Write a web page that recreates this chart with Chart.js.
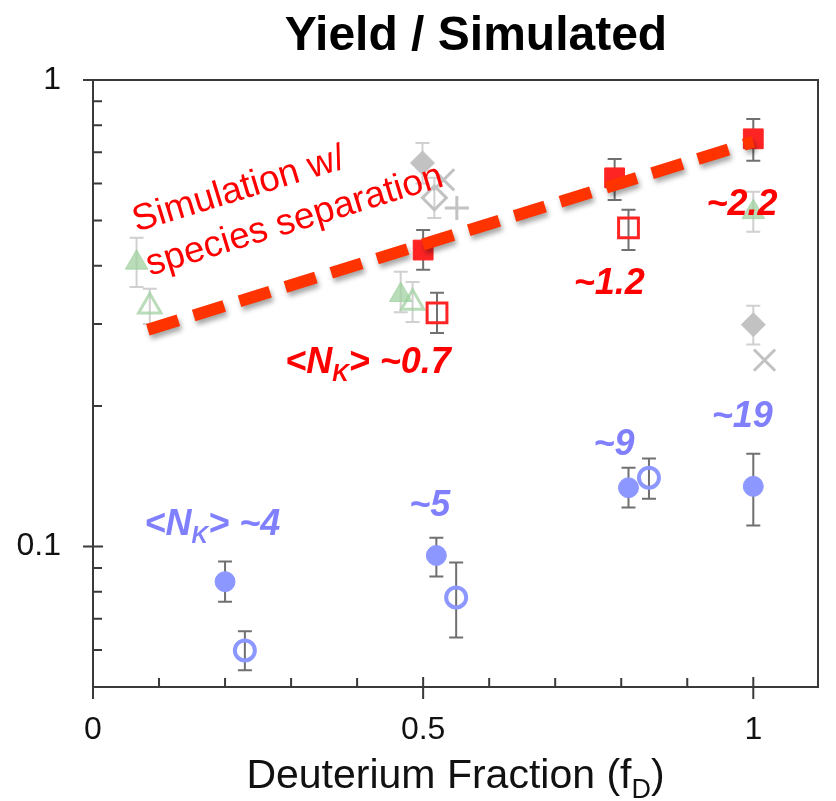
<!DOCTYPE html>
<html>
<head>
<meta charset="utf-8">
<title>Yield / Simulated</title>
<script src="https://cdn.jsdelivr.net/npm/chart.js@4.4.1/dist/chart.umd.min.js"></script>
<style>
  html, body { margin: 0; padding: 0; background: #fff; }
  canvas { display: block; }
</style>
</head>
<body>
<canvas id="yieldChart" width="836" height="801"></canvas>
<script>
const FONT = '"Liberation Sans", Arial, Helvetica, sans-serif';

// axis ticks
const xTicks = [0, 0.5, 1];
const xMinorTicks = [0.1, 0.2, 0.3, 0.4, 0.6, 0.7, 0.8, 0.9];
const yTicks = [0.1, 1];
const yMinorTicks = [0.05, 0.06, 0.07, 0.08, 0.09, 0.2, 0.3, 0.4, 0.5, 0.6, 0.7, 0.8, 0.9];

// red squares (filled / open)
const redFilledX = [0.5, 0.79, 1.0];
const redFilledY = [0.432, 0.617, 0.748];
const redFilledLo = [0.392, 0.553, 0.671];
const redFilledHi = [0.477, 0.677, 0.825];
const redOpenX = [0.521, 0.811];
const redOpenY = [0.317, 0.482];
const redOpenLo = [0.287, 0.432];
const redOpenHi = [0.350, 0.527];

// blue circles (filled / open)
const blueFilledX = [0.2, 0.52, 0.811, 1.0];
const blueFilledY = [0.0841, 0.0957, 0.1337, 0.1346];
const blueFilledLo = [0.0762, 0.0863, 0.1212, 0.111];
const blueFilledHi = [0.0929, 0.1045, 0.1476, 0.158];
const blueOpenX = [0.23, 0.55, 0.842];
const blueOpenY = [0.0599, 0.0778, 0.1405];
const blueOpenLo = [0.0543, 0.0638, 0.1266];
const blueOpenHi = [0.0658, 0.0924, 0.1545];

// faded green triangles
const greenFilledX = [0.066, 0.466, 1.0];
const greenFilledY = [0.406, 0.346, 0.521];
const greenFilledLo = [0.360, 0.318, 0.473];
const greenFilledHi = [0.459, 0.388, 0.576];
const greenOpenX = [0.086, 0.484];
const greenOpenY = [0.327, 0.333];
const greenOpenLo = [0.300, 0.303];
const greenOpenHi = [0.357, 0.369];

// faded grey diamonds, crosses, plus
const greyDiamondX = [0.499, 1.0];
const greyDiamondY = [0.664, 0.299];
const greyDiamondLo = [0.600, 0.271];
const greyDiamondHi = [0.733, 0.328];
const greyOpenDiamondX = [0.517];
const greyOpenDiamondY = [0.559];
const greyOpenDiamondLo = [0.506];
const greyOpenDiamondHi = [0.617];
const greyCrossX = [0.531, 1.017];
const greyCrossY = [0.611, 0.251];
const greyPlusX = [0.551];
const greyPlusY = [0.532];

// simulation with species separation
const simX = [0.083, 1.0];
const simY = [0.2915, 0.737];

// <N_K> labels: text, anchor (data coords), colour
const noteText = ['<N_K> ~0.7', '~1.2', '~2.2', '<N_K> ~4', '~5', '~9', '~19'];
const noteX = [0.291, 0.728, 0.929, 0.078, 0.479, 0.758, 0.937];
const noteY = [0.236, 0.347, 0.514, 0.106, 0.116, 0.157, 0.180];
const noteColor = ['#ff0000', '#ff0000', '#ff0000', '#8080ff', '#8080ff', '#8080ff', '#8080ff'];

const simLines = ['Simulation w/', 'species separation'];

const pts = (xs, ys) => xs.map((v, i) => ({ x: v, y: ys[i] }));

// text with "_X" single-char subscripts
function drawRich(ctx, text, x, y, size, style, color, align) {
  const parts = text.split(/_(\w)/);
  const main = `${style} ${size}px ${FONT}`;
  const sub = `${style} ${Math.round(size * 0.65)}px ${FONT}`;
  ctx.fillStyle = color;
  ctx.textAlign = 'left';
  ctx.textBaseline = 'alphabetic';
  let w = 0;
  parts.forEach((p, i) => { ctx.font = i % 2 ? sub : main; w += ctx.measureText(p).width; });
  let cx = align === 'center' ? x - w / 2 : x;
  parts.forEach((p, i) => {
    ctx.font = i % 2 ? sub : main;
    ctx.fillText(p, cx, i % 2 ? y + size * 0.24 : y);
    cx += ctx.measureText(p).width;
  });
}

// frame + inward ticks
const framePlugin = {
  id: 'frame',
  beforeDatasetsDraw(chart) {
    const { ctx, chartArea: a, scales: { x, y } } = chart;
    ctx.save();
    ctx.strokeStyle = '#3a3a3a';
    ctx.lineWidth = 2;
    ctx.strokeRect(a.left, a.top, a.right - a.left, a.bottom - a.top);
    ctx.beginPath();
    xMinorTicks.forEach(v => { const px = x.getPixelForValue(v); ctx.moveTo(px, a.bottom); ctx.lineTo(px, a.bottom - 9); });
    xTicks.forEach(v => { const px = x.getPixelForValue(v); ctx.moveTo(px, a.bottom + 12); ctx.lineTo(px, a.bottom - 10); });
    yMinorTicks.forEach(v => { const py = y.getPixelForValue(v); ctx.moveTo(a.left, py); ctx.lineTo(a.left + 9, py); });
    yTicks.forEach(v => { const py = y.getPixelForValue(v); ctx.moveTo(a.left - 10, py); ctx.lineTo(a.left + 10, py); });
    ctx.stroke();
    ctx.restore();
  }
};

const errPlugin = {
  id: 'errorBars',
  beforeDatasetsDraw(chart) {
    const { ctx, scales: { x, y } } = chart;
    chart.data.datasets.forEach(ds => {
      if (!ds.errLo) return;
      ctx.save();
      ctx.strokeStyle = ds.errColor;
      ctx.lineWidth = 2;
      ctx.beginPath();
      ds.data.forEach((p, j) => {
        const px = x.getPixelForValue(p.x);
        const top = y.getPixelForValue(ds.errHi[j]);
        const bot = y.getPixelForValue(ds.errLo[j]);
        ctx.moveTo(px, top); ctx.lineTo(px, bot);
        ctx.moveTo(px - 7, top); ctx.lineTo(px + 7, top);
        ctx.moveTo(px - 7, bot); ctx.lineTo(px + 7, bot);
      });
      ctx.stroke();
      ctx.restore();
    });
  }
};

// soft drop shadow under the simulation line
const shadowPlugin = {
  id: 'lineShadow',
  beforeDatasetDraw(chart, args) {
    if (!chart.data.datasets[args.index].shadow) return;
    const ctx = chart.ctx;
    ctx.save();
    ctx.shadowColor = 'rgba(0,0,0,0.35)';
    ctx.shadowBlur = 5;
    ctx.shadowOffsetX = 2;
    ctx.shadowOffsetY = 4;
  },
  afterDatasetDraw(chart, args) {
    if (chart.data.datasets[args.index].shadow) chart.ctx.restore();
  }
};

const textPlugin = {
  id: 'texts',
  afterDatasetsDraw(chart) {
    const { ctx, scales: { x, y } } = chart;
    ctx.save();
    noteText.forEach((t, i) => {
      drawRich(ctx, t, x.getPixelForValue(noteX[i]), y.getPixelForValue(noteY[i]), 36, 'italic bold', noteColor[i]);
    });
    // rotated simulation caption
    ctx.translate(x.getPixelForValue(0.066), y.getPixelForValue(0.4726));
    ctx.rotate(-17 * Math.PI / 180);
    ctx.font = `37px ${FONT}`;
    ctx.fillStyle = '#ff0000';
    ctx.textAlign = 'left';
    ctx.textBaseline = 'alphabetic';
    simLines.forEach((s, i) => ctx.fillText(s, 0, i * 46));
    ctx.restore();
  },
  afterDraw(chart) {
    const { ctx, chartArea: a } = chart;
    ctx.save();
    drawRich(ctx, 'Yield / Simulated', 476, 50, 48, 'bold', '#000', 'center');
    drawRich(ctx, 'Deuterium Fraction (f_D)', (a.left + a.right) / 2, 788, 41, 'normal', '#111', 'center');
    ctx.restore();
  }
};

const RED = '#ff2424';
const BLUE = '#8c98ff';
const GREEN = 'rgba(160,210,160,0.75)';
const GREY = '#c2c2c2';
const ERR_DARK = '#707070';
const ERR_LIGHT = '#d0d0d0';

new Chart(document.getElementById('yieldChart'), {
  type: 'scatter',
  data: {
    datasets: [
      { data: pts(simX, simY), showLine: true, shadow: true, borderColor: '#ff3300', borderWidth: 12,
        borderDash: [32, 16], borderCapStyle: 'butt', pointRadius: 0, fill: false },
      { data: pts(redFilledX, redFilledY), errLo: redFilledLo, errHi: redFilledHi, errColor: ERR_DARK,
        pointStyle: 'rect', pointRadius: 14, backgroundColor: RED, borderColor: RED, borderWidth: 1 },
      { data: pts(redOpenX, redOpenY), errLo: redOpenLo, errHi: redOpenHi, errColor: ERR_DARK,
        pointStyle: 'rect', pointRadius: 14, backgroundColor: 'transparent', borderColor: RED, borderWidth: 3 },
      { data: pts(blueFilledX, blueFilledY), errLo: blueFilledLo, errHi: blueFilledHi, errColor: ERR_DARK,
        pointStyle: 'circle', pointRadius: 10, backgroundColor: BLUE, borderColor: BLUE, borderWidth: 1 },
      { data: pts(blueOpenX, blueOpenY), errLo: blueOpenLo, errHi: blueOpenHi, errColor: ERR_DARK,
        pointStyle: 'circle', pointRadius: 10, backgroundColor: 'transparent', borderColor: BLUE, borderWidth: 4 },
      { data: pts(greyCrossX, greyCrossY), pointStyle: 'crossRot', pointRadius: 15, borderColor: GREY, borderWidth: 3 },
      { data: pts(greyPlusX, greyPlusY), pointStyle: 'cross', pointRadius: 12, borderColor: GREY, borderWidth: 3 },
      { data: pts(greyDiamondX, greyDiamondY), errLo: greyDiamondLo, errHi: greyDiamondHi, errColor: ERR_LIGHT,
        pointStyle: 'rectRot', pointRadius: 12, backgroundColor: GREY, borderColor: GREY, borderWidth: 1 },
      { data: pts(greyOpenDiamondX, greyOpenDiamondY), errLo: greyOpenDiamondLo, errHi: greyOpenDiamondHi, errColor: ERR_LIGHT,
        pointStyle: 'rectRot', pointRadius: 12, backgroundColor: 'transparent', borderColor: GREY, borderWidth: 3 },
      { data: pts(greenFilledX, greenFilledY), errLo: greenFilledLo, errHi: greenFilledHi, errColor: ERR_LIGHT,
        pointStyle: 'triangle', pointRadius: 13, backgroundColor: GREEN, borderColor: GREEN, borderWidth: 1 },
      { data: pts(greenOpenX, greenOpenY), errLo: greenOpenLo, errHi: greenOpenHi, errColor: ERR_LIGHT,
        pointStyle: 'triangle', pointRadius: 13, backgroundColor: 'transparent', borderColor: GREEN, borderWidth: 3 }
    ]
  },
  options: {
    responsive: false,
    animation: false,
    events: [],
    layout: { padding: { top: 80, right: 12, left: 0, bottom: 0 } },
    plugins: { legend: { display: false }, tooltip: { enabled: false }, title: { display: false } },
    scales: {
      x: {
        type: 'linear', min: 0, max: 1.098,
        grid: { display: false, drawTicks: false }, border: { display: false },
        afterBuildTicks: s => { s.ticks = xTicks.map(v => ({ value: v })); },
        afterFit: s => { s.height = 114; },
        ticks: { padding: 24, color: '#111', maxRotation: 0, font: { family: FONT, size: 32 }, callback: v => String(v) }
      },
      y: {
        type: 'logarithmic', min: 0.05, max: 1,
        grid: { display: false, drawTicks: false }, border: { display: false },
        afterBuildTicks: s => { s.ticks = yTicks.map(v => ({ value: v })); },
        afterFit: s => { s.width = 93; },
        ticks: { padding: 32, color: '#111', font: { family: FONT, size: 32 }, callback: v => String(v) }
      }
    }
  },
  plugins: [framePlugin, errPlugin, shadowPlugin, textPlugin]
});
</script>
</body>
</html>
